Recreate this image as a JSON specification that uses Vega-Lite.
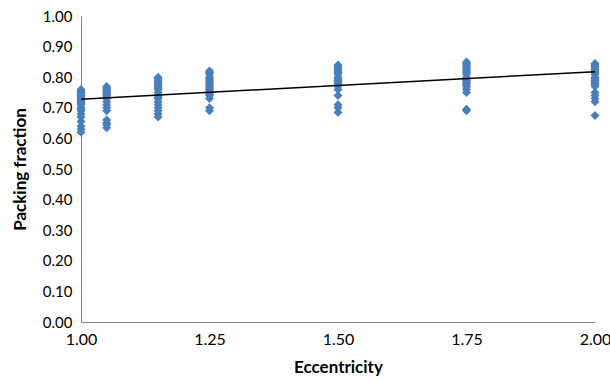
{
  "$schema": "https://vega.github.io/schema/vega-lite/v6.json",
  "width": 514,
  "height": 306,
  "autosize": {"type": "none"},
  "padding": {"left": 81, "top": 16, "right": 15, "bottom": 59},
  "background": "white",
  "config": {
    "view": {"stroke": null},
    "font": "Lato",
    "axis": {
      "domainColor": "#868686",
      "domainWidth": 1,
      "ticks": false,
      "grid": false,
      "labelFont": "Lato",
      "labelFontSize": 16,
      "labelColor": "#000000",
      "labelOverlap": false,
      "labelFlush": false,
      "titleFont": "Lato",
      "titleFontSize": 17,
      "titleFontWeight": "bold",
      "titleColor": "#000000"
    }
  },
  "datasets": {
    "points": [
      {"e": 1.00, "p": 0.76}, {"e": 1.00, "p": 0.755}, {"e": 1.00, "p": 0.75}, {"e": 1.00, "p": 0.745}, {"e": 1.00, "p": 0.74}, {"e": 1.00, "p": 0.735}, {"e": 1.00, "p": 0.73}, {"e": 1.00, "p": 0.725}, {"e": 1.00, "p": 0.72}, {"e": 1.00, "p": 0.715}, {"e": 1.00, "p": 0.71}, {"e": 1.00, "p": 0.70}, {"e": 1.00, "p": 0.695}, {"e": 1.00, "p": 0.69}, {"e": 1.00, "p": 0.68}, {"e": 1.00, "p": 0.67}, {"e": 1.00, "p": 0.655}, {"e": 1.00, "p": 0.64}, {"e": 1.00, "p": 0.63}, {"e": 1.00, "p": 0.62},
      {"e": 1.05, "p": 0.77}, {"e": 1.05, "p": 0.765}, {"e": 1.05, "p": 0.76}, {"e": 1.05, "p": 0.755}, {"e": 1.05, "p": 0.75}, {"e": 1.05, "p": 0.745}, {"e": 1.05, "p": 0.74}, {"e": 1.05, "p": 0.735}, {"e": 1.05, "p": 0.73}, {"e": 1.05, "p": 0.72}, {"e": 1.05, "p": 0.71}, {"e": 1.05, "p": 0.70}, {"e": 1.05, "p": 0.69}, {"e": 1.05, "p": 0.66}, {"e": 1.05, "p": 0.65}, {"e": 1.05, "p": 0.645}, {"e": 1.05, "p": 0.635},
      {"e": 1.15, "p": 0.80}, {"e": 1.15, "p": 0.795}, {"e": 1.15, "p": 0.79}, {"e": 1.15, "p": 0.785}, {"e": 1.15, "p": 0.78}, {"e": 1.15, "p": 0.775}, {"e": 1.15, "p": 0.77}, {"e": 1.15, "p": 0.765}, {"e": 1.15, "p": 0.76}, {"e": 1.15, "p": 0.75}, {"e": 1.15, "p": 0.74}, {"e": 1.15, "p": 0.735}, {"e": 1.15, "p": 0.73}, {"e": 1.15, "p": 0.72}, {"e": 1.15, "p": 0.71}, {"e": 1.15, "p": 0.70}, {"e": 1.15, "p": 0.69}, {"e": 1.15, "p": 0.68}, {"e": 1.15, "p": 0.67},
      {"e": 1.25, "p": 0.82}, {"e": 1.25, "p": 0.815}, {"e": 1.25, "p": 0.81}, {"e": 1.25, "p": 0.80}, {"e": 1.25, "p": 0.795}, {"e": 1.25, "p": 0.79}, {"e": 1.25, "p": 0.785}, {"e": 1.25, "p": 0.78}, {"e": 1.25, "p": 0.775}, {"e": 1.25, "p": 0.77}, {"e": 1.25, "p": 0.765}, {"e": 1.25, "p": 0.76}, {"e": 1.25, "p": 0.755}, {"e": 1.25, "p": 0.75}, {"e": 1.25, "p": 0.745}, {"e": 1.25, "p": 0.74}, {"e": 1.25, "p": 0.73}, {"e": 1.25, "p": 0.70}, {"e": 1.25, "p": 0.69},
      {"e": 1.50, "p": 0.84}, {"e": 1.50, "p": 0.835}, {"e": 1.50, "p": 0.83}, {"e": 1.50, "p": 0.825}, {"e": 1.50, "p": 0.82}, {"e": 1.50, "p": 0.815}, {"e": 1.50, "p": 0.81}, {"e": 1.50, "p": 0.80}, {"e": 1.50, "p": 0.795}, {"e": 1.50, "p": 0.79}, {"e": 1.50, "p": 0.785}, {"e": 1.50, "p": 0.78}, {"e": 1.50, "p": 0.775}, {"e": 1.50, "p": 0.77}, {"e": 1.50, "p": 0.76}, {"e": 1.50, "p": 0.74}, {"e": 1.50, "p": 0.71}, {"e": 1.50, "p": 0.70}, {"e": 1.50, "p": 0.685},
      {"e": 1.75, "p": 0.85}, {"e": 1.75, "p": 0.845}, {"e": 1.75, "p": 0.84}, {"e": 1.75, "p": 0.835}, {"e": 1.75, "p": 0.83}, {"e": 1.75, "p": 0.825}, {"e": 1.75, "p": 0.82}, {"e": 1.75, "p": 0.815}, {"e": 1.75, "p": 0.81}, {"e": 1.75, "p": 0.80}, {"e": 1.75, "p": 0.795}, {"e": 1.75, "p": 0.79}, {"e": 1.75, "p": 0.785}, {"e": 1.75, "p": 0.78}, {"e": 1.75, "p": 0.775}, {"e": 1.75, "p": 0.77}, {"e": 1.75, "p": 0.76}, {"e": 1.75, "p": 0.75}, {"e": 1.75, "p": 0.695}, {"e": 1.75, "p": 0.69},
      {"e": 2.00, "p": 0.845}, {"e": 2.00, "p": 0.84}, {"e": 2.00, "p": 0.835}, {"e": 2.00, "p": 0.83}, {"e": 2.00, "p": 0.825}, {"e": 2.00, "p": 0.82}, {"e": 2.00, "p": 0.815}, {"e": 2.00, "p": 0.81}, {"e": 2.00, "p": 0.80}, {"e": 2.00, "p": 0.795}, {"e": 2.00, "p": 0.79}, {"e": 2.00, "p": 0.785}, {"e": 2.00, "p": 0.78}, {"e": 2.00, "p": 0.775}, {"e": 2.00, "p": 0.77}, {"e": 2.00, "p": 0.75}, {"e": 2.00, "p": 0.74}, {"e": 2.00, "p": 0.73}, {"e": 2.00, "p": 0.72}, {"e": 2.00, "p": 0.675}
    ],
    "trend": [
      {"e": 1.0, "p": 0.728},
      {"e": 2.0, "p": 0.818}
    ]
  },
  "layer": [
    {
      "data": {"name": "points"},
      "mark": {"type": "point", "shape": "diamond", "filled": true, "color": "#4A7EBB", "opacity": 1, "size": 80},
      "encoding": {
        "x": {
          "field": "e", "type": "quantitative",
          "scale": {"domain": [1, 2], "nice": false, "zero": false},
          "axis": {"values": [1, 1.25, 1.5, 1.75, 2], "format": ".2f", "title": "Eccentricity", "labelPadding": 9, "titlePadding": 12, "labelOverlap": false, "labelFlush": false}
        },
        "y": {
          "field": "p", "type": "quantitative",
          "scale": {"domain": [0, 1], "nice": false},
          "axis": {"tickCount": 10, "format": ".2f", "title": "Packing fraction", "labelPadding": 9, "titlePadding": 13, "labelOverlap": false, "labelFlush": false, "labelBound": false, "labelFontSize": 15}
        }
      }
    },
    {
      "data": {"name": "trend"},
      "mark": {"type": "line", "color": "#000000", "strokeWidth": 1.5},
      "encoding": {
        "x": {"field": "e", "type": "quantitative"},
        "y": {"field": "p", "type": "quantitative"}
      }
    }
  ]
}
